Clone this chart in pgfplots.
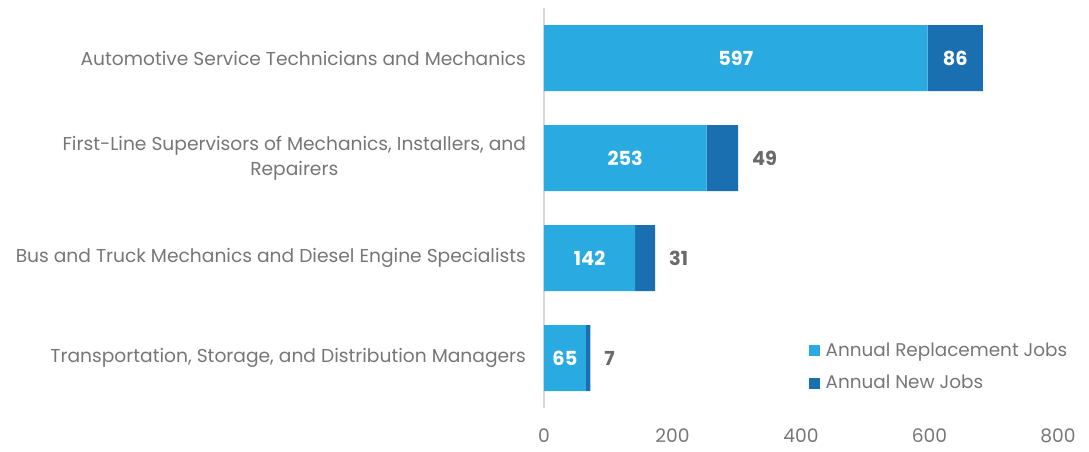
\documentclass[border=0pt]{standalone}
\usepackage{fontspec}
\setmainfont{Poppins}
\usepackage{pgfplots}
\pgfplotsset{compat=1.18}
\definecolor{lb}{HTML}{29ABE2}
\definecolor{db}{HTML}{1A6FB0}
\definecolor{tg}{HTML}{767676}
\definecolor{dg}{HTML}{6A6A6A}
\definecolor{lg}{HTML}{D9D9D9}
\begin{document}
\begin{tikzpicture}
\begin{axis}[name=ax, at={(0,0)}, anchor=south west,
  scale only axis, width=385.5pt, height=300pt,
  xbar stacked, bar width=49.5pt,
  xmin=0, xmax=800, ymin=-0.5, ymax=3.5, y dir=reverse,
  ytick={0,1,2,3},
  yticklabels={Automotive Service Technicians and Mechanics,
    {First-Line Supervisors of Mechanics, Installers, and\\Repairers},
    Bus and Truck Mechanics and Diesel Engine Specialists,
    {Transportation, Storage, and Distribution Managers}},
  yticklabel style={align=center, font=\fontsize{14}{18.75}\selectfont, text=tg, xshift=-10pt},
  xtick={0,200,400,600,800},
  xticklabel style={font=\fontsize{14}{16}\selectfont, text=tg, yshift=-12pt},
  /pgf/number format/assume math mode=true,
  axis x line*=bottom, axis y line*=left,
  x axis line style={draw=none},
  y axis line style={draw=lg, line width=1.5pt, -},
  tick style={draw=none},
  legend style={at={(0.508,0.178)}, anchor=north west, draw=none, fill=none,
    font=\fontsize{13.8}{16}\selectfont, text=tg, row sep=9pt},
  legend cell align=left,
  legend image code/.code={\fill[#1,draw=none] (0pt,-4pt) rectangle (8.25pt,4.25pt);},
]
\addplot[fill=lb, draw=none] coordinates {(597,0) (253,1) (142,2) (65,3)};
\addplot[fill=db, draw=none] coordinates {(86,0) (49,1) (31,2) (7,3)};
\legend{\hspace{2pt}Annual Replacement Jobs, \hspace{2pt}Annual New Jobs}
\end{axis}
\begin{axis}[at={(0,0)}, anchor=south west,
  scale only axis, width=385.5pt, height=300pt,
  xmin=0, xmax=800, ymin=-0.5, ymax=3.5, y dir=reverse,
  axis lines=none, clip=false]
\addplot[draw=none, mark=none, nodes near coords, point meta=explicit symbolic,
  nodes near coords style={font=\fontsize{14.5}{16}\selectfont\bfseries, text=white, anchor=center}]
  table[meta=l] {
x y l
298.5 0 597
640 0 86
126.5 1 253
71 2 142
32.5 3 65
};
\addplot[draw=none, mark=none, nodes near coords, point meta=explicit symbolic,
  nodes near coords style={font=\fontsize{14.5}{16}\selectfont\bfseries, text=dg, anchor=west, xshift=7pt}]
  table[meta=l] {
x y l
302 1 49
173 2 31
72 3 7
};
\end{axis}
\pgfresetboundingbox
\path ([shift={(-408pt,-32.25pt)}]ax.south west) rectangle ([shift={(23.25pt,6pt)}]ax.north east);
\end{tikzpicture}
\end{document}
